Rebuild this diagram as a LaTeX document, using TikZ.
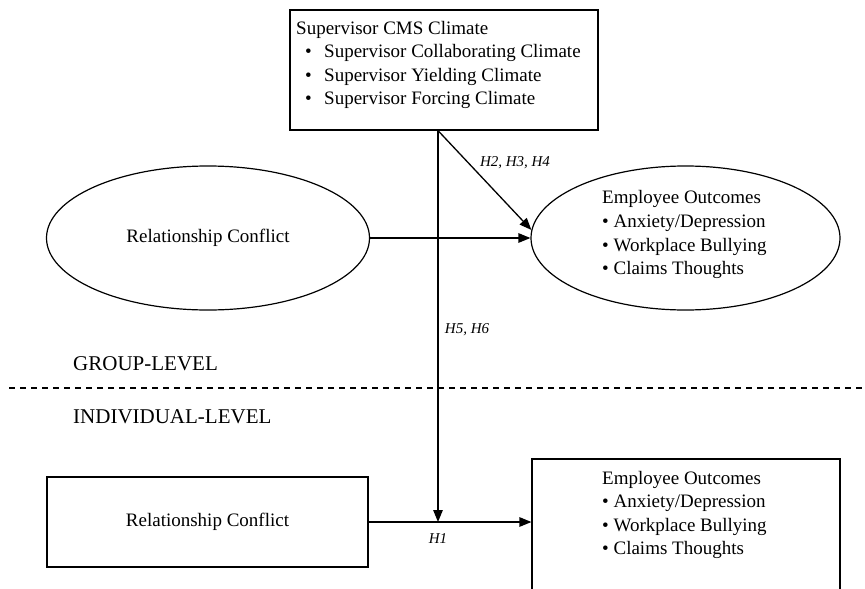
\documentclass[tikz,border=0pt]{standalone}
\usepackage{fontspec}
\setmainfont{Liberation Serif}
\usetikzlibrary{arrows.meta,shapes.geometric}
\newcommand\fsz[1]{\fontsize{#1}{#1}\selectfont}
\begin{document}
\begin{tikzpicture}[x=1pt,y=-1pt,
  shp/.style={draw, line width=1.2pt, inner sep=0pt},
  txt/.style={inner sep=0pt, anchor=west, text height=13pt, text depth=4pt, font=\fsz{19}},
  hyp/.style={inner sep=0pt, font=\fsz{15}\itshape},
  lvl/.style={inner sep=0pt, anchor=west, font=\fsz{21}},
  arr/.style={line width=1.3pt, -{Triangle[length=12pt,width=9.5pt]}}]
\useasboundingbox (0,0) rectangle (865,589);
\clip (0,0) rectangle (865,589);
\fill[white] (0,0) rectangle (865,589);

% top box
\node[shp, minimum width=308pt, minimum height=120pt] (cms) at (444,70) {};
\node[txt] (cmst) at (296,30) {Supervisor CMS Climate};
\node[txt] (cb1) at (305,53) {•};
\node[txt] (ct1) at (324,53) {Supervisor Collaborating Climate};
\node[txt] (cb2) at (305,77) {•};
\node[txt] (ct2) at (324,77) {Supervisor Yielding Climate};
\node[txt] (cb3) at (305,100) {•};
\node[txt] (ct3) at (324,100) {Supervisor Forcing Climate};

% group level
\node[shp, ellipse, minimum width=323pt, minimum height=144pt, font=\fsz{19}] (rcg) at (208,238) {Relationship Conflict};
\node[shp, ellipse, minimum width=309pt, minimum height=144pt] (eog) at (685.5,238) {};
\node[txt] (eog0) at (602,199) {Employee Outcomes};
\node[txt] (eog1) at (602,223) {• Anxiety/Depression};
\node[txt] (eog2) at (602,247) {• Workplace Bullying};
\node[txt] (eog3) at (602,270) {• Claims Thoughts};

% individual level
\node[shp, minimum width=321pt, minimum height=90pt, font=\fsz{19}] (rci) at (207.5,522) {Relationship Conflict};
\node[shp, minimum width=308pt, minimum height=141pt] (eoi) at (686,529.5) {};
\node[txt] (eoi0) at (602,480) {Employee Outcomes};
\node[txt] (eoi1) at (602,503) {• Anxiety/Depression};
\node[txt] (eoi2) at (602,527) {• Workplace Bullying};
\node[txt] (eoi3) at (602,550) {• Claims Thoughts};

% connectors
\coordinate (j) at (438,522);
\draw[arr] (cms.south -| j) -- (j);
\draw[arr] (cms.south -| j) -- (eog.177);
\draw[arr] (rcg.east) -- (eog.west);
\draw[arr] (rci.east) -- (rci.east -| eoi.west);

% labels
\node[hyp] (h234) at (515,163) {H2, H3, H4};
\node[hyp] (h56) at (467,330) {H5, H6};
\node[hyp] (h1) at (438,539) {H1};
\node[lvl] (grp) at (73,364) {GROUP-LEVEL};
\node[lvl] (ind) at (73,417) {INDIVIDUAL-LEVEL};

% level divider
\coordinate (dl) at (9,388);
\coordinate (dr) at (865,388);
\draw[line width=1.1pt, dash pattern=on 6pt off 5pt] (dl) -- (dr);
\end{tikzpicture}
\end{document}
